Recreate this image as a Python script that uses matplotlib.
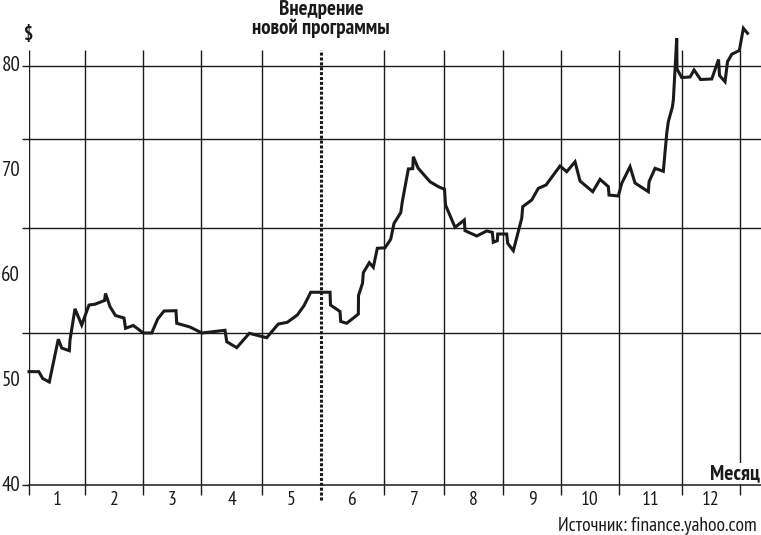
import matplotlib
matplotlib.use('Agg')
import matplotlib.pyplot as plt

plt.rcParams['font.family'] = ['PT Sans Narrow', 'Roboto Condensed', 'Roboto', 'DejaVu Sans']

# share price, x in months from the start of the year
x = [0.0, 0.169, 0.236, 0.350, 0.505, 0.564, 0.695, 0.707, 0.793, 0.909,
     1.034, 1.138, 1.302, 1.319, 1.397, 1.491, 1.638, 1.664, 1.798, 1.971,
     2.116, 2.219, 2.328, 2.534, 2.547, 2.776, 2.983, 3.379, 3.409, 3.581,
     3.798, 4.098, 4.298, 4.453, 4.626, 4.741, 4.857, 5.190, 5.198, 5.362,
     5.374, 5.478, 5.678, 5.681, 5.750, 5.764, 5.867, 5.936, 6.005, 6.138,
     6.236, 6.293, 6.409, 6.436, 6.540, 6.616, 6.626, 6.707, 6.914, 7.057,
     7.164, 7.181, 7.345, 7.505, 7.517, 7.719, 7.891, 7.988, 8.005, 8.074,
     8.081, 8.236, 8.253, 8.350, 8.495, 8.512, 8.667, 8.781, 8.914, 9.155,
     9.271, 9.414, 9.500, 9.719, 9.845, 9.988, 10.000, 10.160, 10.219, 10.362,
     10.448, 10.678, 10.690, 10.793, 10.936, 10.995, 11.022, 11.091, 11.109, 11.167,
     11.172, 11.253, 11.397, 11.466, 11.578, 11.771, 11.888, 11.905, 12.000, 12.043,
     12.116, 12.247, 12.316, 12.388]
price = [50.82, 50.82, 50.17, 49.83, 53.92, 53.08, 52.82, 53.84, 56.82, 55.27,
         57.18, 57.26, 57.61, 58.28, 57.02, 56.18, 55.94, 54.96, 55.23, 54.51,
         54.51, 55.85, 56.61, 56.64, 55.44, 55.08, 54.51, 54.77, 53.68, 53.11,
         54.48, 54.06, 55.37, 55.53, 56.23, 57.12, 58.40, 58.40, 57.18, 56.56,
         55.61, 55.44, 56.32, 58.09, 59.26, 60.27, 61.22, 60.78, 62.60, 62.64,
         63.46, 64.98, 66.00, 67.05, 70.17, 70.20, 71.34, 70.26, 68.95, 68.48,
         68.23, 66.73, 64.60, 65.30, 64.28, 63.77, 64.25, 64.12, 63.17, 63.32,
         63.96, 63.96, 63.07, 62.37, 65.46, 66.57, 67.21, 68.32, 68.64, 70.45,
         69.91, 70.86, 69.02, 68.00, 69.18, 68.48, 67.68, 67.59, 68.80, 70.39,
         68.83, 68.00, 68.95, 70.23, 69.95, 73.58, 74.68, 76.06, 76.75, 82.64,
         79.71, 78.90, 78.95, 79.62, 78.71, 78.76, 80.62, 79.09, 78.50, 80.41,
         81.12, 81.48, 83.60, 83.12]

month_edges = [0.966, 1.966, 2.966, 4.017, 6.121, 7.155, 8.172, 9.172, 10.172, 11.259, 12.259]
launch = 5.034
month_labels = ['1', '2', '3', '4', '5', '6', '7', '8', '9', '10', '11', '12']
grid_y = [80, 73.03, 64.53, 54.51]
y_labels = [80, 70, 60, 50, 40]

fig = plt.figure(figsize=(7.61, 5.35), dpi=100)
ax = fig.add_axes([29/761, 50/535, 732/761, 465/535])
ax.set_xlim(0, 12.62)
ax.set_ylim(40, 84.39)
for s in ax.spines.values():
    s.set_visible(False)

top = 81.53
ax.vlines([0] + month_edges, 40, top, colors='#1a1a1a', lw=1.0, zorder=1)
for g in grid_y:
    ax.axhline(g, color='#1a1a1a', lw=1.0, zorder=1)
ax.axhline(40, color='#1a1a1a', lw=1.1, zorder=1, clip_on=False)
ax.plot([launch, launch], [38.6, top], color='#1a1a1a', lw=2.2,
        linestyle=(0, (1, 0.6)), clip_on=False, zorder=2)

ax.plot(x, price, color='#1a1a1a', lw=2.2, solid_joinstyle='miter', clip_on=False, zorder=3)

# ticks: marks at edges/grid, labels in between
bounds = [0] + month_edges[:4] + [launch] + month_edges[4:]
centers = [(bounds[i] + bounds[i + 1]) / 2 for i in range(12)]
ax.set_xticks([0] + month_edges)
ax.set_xticklabels([])
ax.set_xticks(centers, labels=month_labels, minor=True)
ax.tick_params(axis='x', which='major', length=7.5, width=1.0, color='#1a1a1a', direction='out')
ax.tick_params(axis='x', which='minor', length=0, pad=4, labelsize=14, labelcolor='#1a1a1a')

ax.set_yticks(grid_y + [40])
ax.set_yticklabels([])
ax.tick_params(axis='y', which='major', length=5, width=1.0, color='#1a1a1a', direction='out')
for v in y_labels:
    ax.text(-0.012, v, str(v), transform=ax.get_yaxis_transform(), ha='right', va='center',
            fontsize=15, color='#1a1a1a')

fig.text(321/761, 1 - 15/535, 'Внедрение', ha='center', va='baseline',
         fontsize=15, fontweight='bold', color='#1a1a1a')
fig.text(321/761, 1 - 34/535, 'новой программы', ha='center', va='baseline',
         fontsize=15, fontweight='bold', color='#1a1a1a')
fig.text(29/761, 1 - 35/535, '$', ha='center', va='center', fontsize=14,
         fontweight='bold', color='#1a1a1a')
fig.text(760/761, 1 - 479/535, 'Месяц', ha='right', va='baseline', fontsize=15.5,
         fontweight='bold', color='#1a1a1a',
         bbox=dict(facecolor='white', edgecolor='none', pad=1))
fig.text(757/761, 1 - 531/535, 'Источник: finance.yahoo.com', ha='right', va='baseline',
         fontsize=14, color='#1a1a1a')

fig.savefig('out.png', dpi=100)
